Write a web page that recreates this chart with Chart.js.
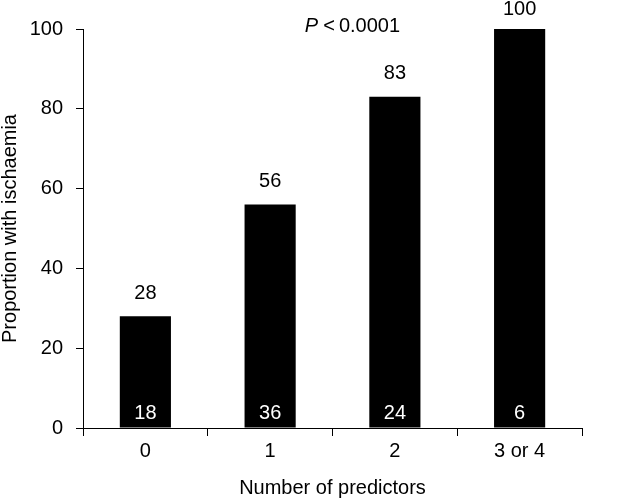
<!DOCTYPE html>
<html>
<head>
<meta charset="utf-8">
<script src="https://cdn.jsdelivr.net/npm/chart.js@4/dist/chart.umd.min.js"></script>
<style>
  html, body { margin: 0; padding: 0; background: #fff; }
  #wrap { width: 640px; height: 500px; position: relative; }
</style>
</head>
<body>
<div id="wrap"><canvas id="c" width="640" height="500"></canvas></div>
<script>
const categories = ['0', '1', '2', '3 or 4'];
const proportions = [28, 56, 83, 100];
const counts = [18, 36, 24, 6];
const yTicks = [0, 20, 40, 60, 80, 100];
const pText = '<\u20090.0001';

const FONT = '"Liberation Sans", Arial, sans-serif';

const labelPlugin = {
  id: 'labels',
  afterDatasetsDraw(chart) {
    const ctx = chart.ctx;
    const meta = chart.getDatasetMeta(0);
    const y0 = chart.scales.y.getPixelForValue(0);
    ctx.save();
    ctx.font = '20px ' + FONT;
    ctx.textAlign = 'center';
    ctx.textBaseline = 'middle';
    meta.data.forEach((bar, i) => {
      ctx.fillStyle = '#000';
      const ty = Math.max(bar.y - 23, 9);
      ctx.fillText(String(proportions[i]), bar.x, ty);
      ctx.fillStyle = '#fff';
      ctx.fillText(String(counts[i]), bar.x, y0 - 15);
    });
    // P value annotation
    const a = chart.chartArea;
    const cx = a.left + 0.54 * (a.right - a.left);
    ctx.font = 'italic 20px ' + FONT;
    const wP = ctx.measureText('P').width;
    ctx.font = '20px ' + FONT;
    const wR = ctx.measureText(pText).width;
    const total = wP + 5 + wR;
    const x0 = cx - total / 2;
    ctx.textAlign = 'left';
    ctx.fillStyle = '#000';
    ctx.font = 'italic 20px ' + FONT;
    ctx.fillText('P', x0, 26);
    ctx.font = '20px ' + FONT;
    ctx.fillText(pText, x0 + wP + 5, 26);
    ctx.restore();
  }
};

new Chart(document.getElementById('c'), {
  type: 'bar',
  data: {
    labels: categories,
    datasets: [{
      data: proportions,
      backgroundColor: '#000',
      borderWidth: 0,
      barPercentage: 0.41,
      categoryPercentage: 1.0
    }]
  },
  options: {
    responsive: false,
    animation: false,
    devicePixelRatio: 1,
    layout: { padding: { top: 29, right: 58, left: 0, bottom: 0 } },
    plugins: { legend: { display: false }, tooltip: { enabled: false } },
    scales: {
      x: {
        afterFit(s) { s.height = 72; },
        grid: { offset: true, drawOnChartArea: false, drawTicks: true, tickLength: 8, color: '#000', lineWidth: 1 },
        border: { display: true, color: '#000', width: 1 },
        ticks: { color: '#000', font: { family: FONT, size: 20 }, padding: 3 },
        title: { display: true, text: 'Number of predictors', color: '#000', font: { family: FONT, size: 20, lineHeight: 1.2 }, padding: { top: 0, bottom: 0 } }
      },
      y: {
        min: 0, max: 100,
        afterFit(s) { s.width = 83; },
        afterBuildTicks(s) { s.ticks = yTicks.map(v => ({ value: v })); },
        grid: { drawOnChartArea: false, drawTicks: true, tickLength: 7, color: '#000', lineWidth: 1 },
        border: { display: true, color: '#000', width: 1 },
        ticks: { color: '#000', font: { family: FONT, size: 20 }, padding: 13 },
        title: { display: true, text: 'Proportion with ischaemia', color: '#000', font: { family: FONT, size: 20, lineHeight: 1.0 }, padding: { top: 0, bottom: 0 } }
      }
    }
  },
  plugins: [labelPlugin]
});
</script>
</body>
</html>
